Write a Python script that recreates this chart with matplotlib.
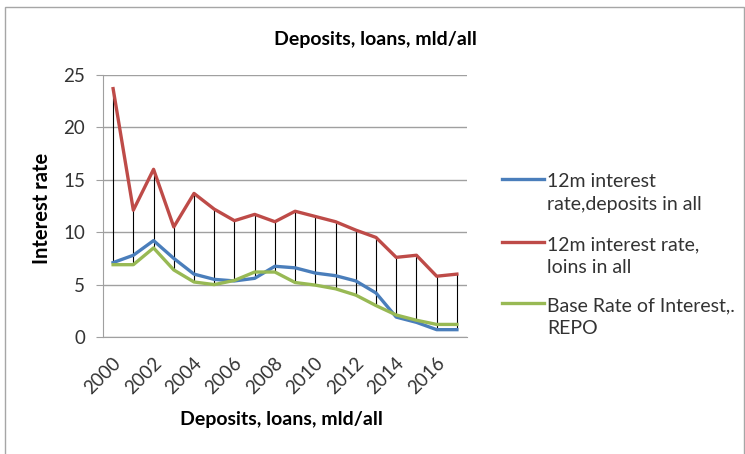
import matplotlib
matplotlib.use("Agg")
import matplotlib.pyplot as plt
from matplotlib.patches import Rectangle
from matplotlib.lines import Line2D
from matplotlib.transforms import ScaledTranslation

plt.rcParams['font.family'] = ['Lato', 'DejaVu Sans']

years = list(range(2000, 2018))
tick_labels = [str(y) if (y - 2000) % 2 == 0 else "" for y in years]
loans = [23.7, 12.1, 16.0, 10.5, 13.7, 12.2, 11.1, 11.7, 11.0, 12.0, 11.5, 11.0, 10.2, 9.5, 7.6, 7.8, 5.8, 6.0]
deposits = [7.1, 7.8, 9.2, 7.5, 6.0, 5.5, 5.35, 5.6, 6.75, 6.6, 6.1, 5.85, 5.35, 4.2, 1.9, 1.4, 0.7, 0.7]
repo = [6.9, 6.9, 8.5, 6.4, 5.25, 5.0, 5.4, 6.2, 6.2, 5.2, 4.95, 4.6, 4.0, 3.0, 2.1, 1.6, 1.2, 1.2]
labels = [("12m interest", "rate,deposits in all"), ("12m interest rate,", "loins in all"),
          ("Base Rate of Interest,.", "REPO")]
colors = ["#4a7ebb", "#be4b48", "#98b954"]
title = "Deposits, loans, mld/all"
xlabel = "Deposits, loans, mld/all"
ylabel = "Interest rate"

W, H = 745, 454
fig = plt.figure(figsize=(W / 100, H / 100), dpi=100)
fig.patches.append(Rectangle((5 / W, -0.1), 739 / W, 1.1 - 7 / H, transform=fig.transFigure,
                             fill=False, edgecolor="#a6a6a6", linewidth=1.0))
ax = fig.add_axes([103 / W, 1 - 337 / H, 364 / W, 262 / H])

x = list(range(len(years)))
lo = [min(a, b, c) for a, b, c in zip(loans, deposits, repo)]
hi = [max(a, b, c) for a, b, c in zip(loans, deposits, repo)]
ax.vlines(x, lo, hi, colors="black", linewidth=0.8, zorder=2)
ax.plot(x, deposits, color=colors[0], lw=2.4, zorder=3)
ax.plot(x, loans, color=colors[1], lw=2.4, zorder=3)
ax.plot(x, repo, color=colors[2], lw=2.4, zorder=3)

ax.set_xlim(-0.5, len(years) - 0.5)
ax.set_ylim(0, 25)
ax.set_yticks([0, 5, 10, 15, 20, 25])
ax.yaxis.grid(True, color="#a0a0a0", linewidth=1.0)
ax.set_axisbelow(True)
ax.set_xticks(x)
ax.set_xticklabels(tick_labels, rotation=45, ha="right", va="center", rotation_mode="anchor",
                   fontsize=13.5, color="#333333")
ax.tick_params(axis="x", length=0, pad=17)
ax.tick_params(axis="y", length=5, color="#a0a0a0", labelsize=13.5, labelcolor="#333333", pad=8)
off = ScaledTranslation(5 / 100, 0, fig.dpi_scale_trans)
for lab in ax.get_xticklabels():
    lab.set_transform(lab.get_transform() + off)
for s in ["top", "right"]:
    ax.spines[s].set_visible(False)
ax.spines["left"].set_color("#a0a0a0")
ax.spines["bottom"].set_color("#a0a0a0")

fig.text(375 / W, 1 - 40 / H, title, fontsize=14, fontweight="bold", ha="center", va="center")
fig.text(281 / W, 1 - 419 / H, xlabel, fontsize=14, fontweight="bold", ha="center", va="center")
fig.text(42 / W, 1 - 208 / H, ylabel, fontsize=14.5, fontweight="bold", ha="center", va="center",
         rotation=90)

# legend (first line of each entry aligned with its handle, as in the reference)
base_y = [187, 250, 311]
for (l1, l2), c, by in zip(labels, colors, base_y):
    hy = 1 - (by - 8) / H
    fig.add_artist(Line2D([502 / W, 544 / W], [hy, hy], transform=fig.transFigure,
                          color=c, lw=2.4))
    fig.text(547 / W, 1 - by / H, l1, fontsize=14, color="#333333", va="baseline", ha="left")
    fig.text(547 / W, 1 - (by + 23) / H, l2, fontsize=14, color="#333333", va="baseline", ha="left")

fig.savefig("out.png", dpi=100, facecolor="white")
